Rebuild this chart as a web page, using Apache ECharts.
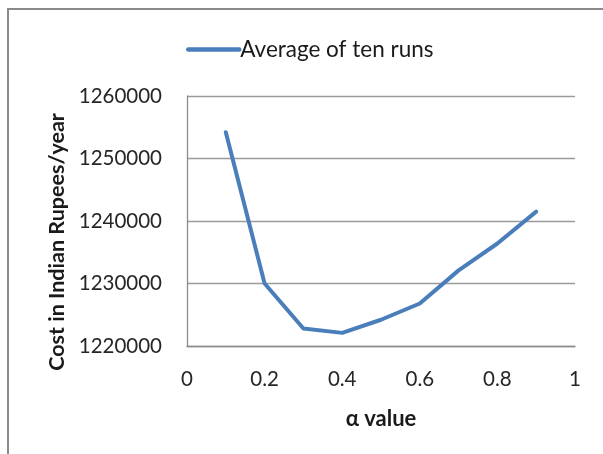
<!DOCTYPE html>
<html>
<head>
<meta charset="utf-8">
<script src="https://cdn.jsdelivr.net/npm/echarts@6/dist/echarts.min.js"></script>
<style>
  html, body { margin: 0; padding: 0; background: #fff; }
  #chart { width: 603px; height: 454px; }
</style>
</head>
<body>
<div id="chart"></div>
<script>
// α values and the average cost over ten runs
const alphaValues = [0.1, 0.2, 0.3, 0.4, 0.5, 0.6, 0.7, 0.8, 0.9];
const averageCost = [1254200, 1230000, 1222800, 1222100, 1224200, 1226800, 1232100, 1236400, 1241500];
const seriesName = 'Average of ten runs';
const xTicks = [0, 0.2, 0.4, 0.6, 0.8, 1];
const yTitle = 'Cost in Indian Rupees/year';
const xTitle = 'α value';

const fontFamily = 'Lato, "Open Sans", sans-serif';
const lineColor = '#4a7ebb';
const chart = echarts.init(document.getElementById('chart'), null, { renderer: 'canvas' });

chart.setOption({
  animation: false,
  backgroundColor: '#ffffff',
  graphic: [
    {
      // outer chart frame (its right and bottom edges lie outside the view)
      type: 'rect',
      shape: { x: 8, y: 9, width: 800, height: 700 },
      style: { fill: 'none', stroke: '#8a8a8a', lineWidth: 2 },
      silent: true
    },
    {
      // vertical axis title, centred a little below the plot centre
      type: 'text',
      x: 57,
      y: 242,
      rotation: Math.PI / 2,
      style: {
        text: yTitle,
        fontFamily, fontSize: 21.5, fontWeight: 'bold', fill: '#1a1a1a',
        align: 'center', verticalAlign: 'middle'
      },
      silent: true
    }
  ],
  legend: {
    data: [seriesName],
    left: 181,
    top: 33,
    itemWidth: 51,
    itemHeight: 14,
    itemGap: 4,
    itemStyle: { opacity: 0 },
    lineStyle: { color: lineColor, width: 4.5 },
    textStyle: { fontFamily, fontSize: 22.5, color: '#1a1a1a', padding: [0, 0, 0, -4] }
  },
  grid: { left: 187, top: 96, width: 388, height: 250, containLabel: false },
  xAxis: {
    type: 'value',
    min: 0,
    max: 1,
    interval: 0.2,
    name: xTitle,
    nameLocation: 'middle',
    nameGap: 62,
    nameTextStyle: { fontFamily, fontSize: 22, fontWeight: 'bold', color: '#1a1a1a' },
    axisLine: { show: true, lineStyle: { color: '#8c8c8c', width: 1.3 } },
    axisTick: { show: false },
    splitLine: { show: false },
    axisLabel: {
      margin: 23,
      fontFamily, fontSize: 20.5, color: '#262626',
      formatter: v => (xTicks.includes(+v.toFixed(1)) ? String(+v.toFixed(1)) : '')
    }
  },
  yAxis: {
    type: 'value',
    min: 1220000,
    max: 1260000,
    interval: 10000,
    axisLine: { show: true, lineStyle: { color: '#8c8c8c', width: 1.3 } },
    axisTick: { show: false },
    splitLine: { show: true, lineStyle: { color: '#9a9a9a', width: 1.3 } },
    axisLabel: { margin: 25, fontFamily, fontSize: 20.5, color: '#262626', formatter: v => String(v) }
  },
  series: [{
    name: seriesName,
    type: 'line',
    data: alphaValues.map((a, i) => [a, averageCost[i]]),
    showSymbol: false,
    symbol: 'none',
    lineStyle: { color: lineColor, width: 4, join: 'round', cap: 'round' },
    itemStyle: { color: lineColor }
  }]
});
</script>
</body>
</html>
